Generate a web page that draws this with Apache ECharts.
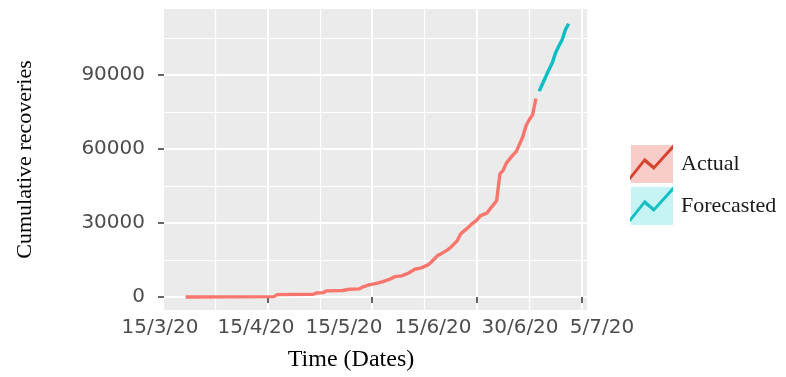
<!DOCTYPE html>
<html>
<head>
<meta charset="utf-8">
<script src="https://cdn.jsdelivr.net/npm/echarts@6/dist/echarts.min.js"></script>
<style>
html,body{margin:0;padding:0;background:#fff;}
#chart{width:786px;height:377px;}
</style>
</head>
<body>
<div id="chart"></div>
<script>
// ---------- data ----------
const actualDates = ['2020-03-15','2020-04-11','2020-04-12','2020-04-23','2020-04-24','2020-04-26','2020-04-27',
  '2020-05-02','2020-05-04','2020-05-07','2020-05-08','2020-05-10','2020-05-12','2020-05-14','2020-05-16',
  '2020-05-18','2020-05-20','2020-05-22','2020-05-24','2020-05-26','2020-05-28','2020-05-29','2020-05-31',
  '2020-06-01','2020-06-03','2020-06-04','2020-06-06','2020-06-07','2020-06-09','2020-06-10','2020-06-12',
  '2020-06-13','2020-06-15','2020-06-16','2020-06-18','2020-06-19','2020-06-20','2020-06-21','2020-06-23',
  '2020-06-24','2020-06-25','2020-06-26','2020-06-27','2020-06-28','2020-06-29','2020-06-30'];
const actualValues = [0,120,930,1100,1620,1750,2440,
  2600,3100,3250,3940,4870,5400,6090,6980,
  8240,8520,9620,11240,11770,12990,14090,16850,
  17460,19080,20180,22850,25580,27810,29110,31260,
  32880,33980,35720,39000,49900,51350,54400,57640,
  58980,62000,65000,69500,72000,74000,80500];
const forecastDates = ['2020-07-01','2020-07-02','2020-07-03','2020-07-04','2020-07-05',
  '2020-07-06','2020-07-07','2020-07-08','2020-07-09','2020-07-10'];
const forecastValues = [83500,86400,89300,92300,95000,99000,101800,104300,108400,110800];

const yTickValues = [0, 30000, 60000, 90000];
const yMinorValues = [15000, 45000, 75000, 105000];
const xMajorDates = ['2020-04-09','2020-05-11','2020-06-12','2020-07-14'];
const xMinorDates = ['2020-03-24','2020-04-25','2020-05-27','2020-06-28'];
const xTickLabels = ['15/3/20','15/4/20','15/5/20','15/6/20','30/6/20','5/7/20'];
const seriesNames = ['Actual','Forecasted'];

// ---------- layout (not data) ----------
const xLabelSlots = [0.1195, 0.3108, 0.4861, 0.6633, 0.8367, 1.0];
const DAY = 86400000;
function toTime(s){const p=s.split('-').map(Number);return Date.UTC(p[0],p[1]-1,p[2]);}
const base = toTime('2020-03-15');
const xMin = base - 6.6*DAY, xMax = base + 122.6*DAY;
const yMin = -5300, yMax = 116800;

const zigzag = 'path://M0,93 L45.6,35 L74.4,60 L134,-7 L134,7 L74.4,74 L45.6,49 L0,107 Z';

const chart = echarts.init(document.getElementById('chart'), null, {renderer:'canvas'});
const tickFont = {fontFamily:'DejaVu Sans', fontSize:20, color:'#4D4D4D'};
const serif = 'Liberation Serif';

chart.setOption({
  animation:false,
  backgroundColor:'#ffffff',
  grid:[
    {left:164, right:199, top:9, bottom:67, show:true, backgroundColor:'#EBEBEB', borderWidth:0},
    {left:100, right:184, top:9, bottom:67, show:false}
  ],
  xAxis:[
    {type:'time', gridIndex:0, min:xMin, max:xMax,
     axisLine:{show:false},
     axisTick:{show:true, length:6, lineStyle:{color:'#333333', width:1.5}, customValues: xMajorDates.map(toTime)},
     axisLabel:{show:false, customValues: xMajorDates.map(toTime)},
     splitLine:{show:true, lineStyle:{color:'#ffffff', width:2}}},
    {type:'time', gridIndex:0, min:xMin, max:xMax,
     axisLine:{show:false},
     axisTick:{show:false, customValues: xMinorDates.map(toTime)},
     axisLabel:{show:false, customValues: xMinorDates.map(toTime)},
     splitLine:{show:true, lineStyle:{color:'#ffffff', width:1.2}}},
    {type:'value', gridIndex:1, min:0, max:1, position:'bottom',
     axisLine:{show:false}, axisTick:{show:false}, splitLine:{show:false},
     axisLabel:Object.assign({show:true, margin:14, customValues:xLabelSlots, showMinLabel:true, showMaxLabel:true, hideOverlap:false,
       formatter:function(v){
         for (let i=0;i<xLabelSlots.length;i++){ if (Math.abs(xLabelSlots[i]-v)<1e-6) return xTickLabels[i]; }
         return '';
       }}, tickFont),
     name:'Time (Dates)', nameLocation:'middle', nameGap:44,
     nameTextStyle:{fontFamily:serif, fontSize:24, color:'#000000'}}
  ],
  yAxis:[
    {type:'value', gridIndex:0, min:yMin, max:yMax,
     axisLine:{show:false},
     axisTick:{show:true, length:6, lineStyle:{color:'#333333', width:1.5}, customValues:yTickValues},
     axisLabel:Object.assign({margin:19, customValues:yTickValues, padding:[7,0,0,0],
       formatter:function(v){return String(Math.round(v));}}, tickFont),
     splitLine:{show:true, lineStyle:{color:'#ffffff', width:2}},
     name:'Cumulative recoveries', nameLocation:'middle', nameRotate:90, nameGap:128,
     nameTextStyle:{fontFamily:serif, fontSize:22, color:'#000000'}},
    {type:'value', gridIndex:0, min:yMin, max:yMax, position:'left',
     axisLine:{show:false},
     axisTick:{show:false, customValues:yMinorValues},
     axisLabel:{show:false, customValues:yMinorValues},
     splitLine:{show:true, lineStyle:{color:'#ffffff', width:1.2}}},
    {type:'value', gridIndex:1, show:false, min:0, max:1}
  ],
  legend:[
    {orient:'vertical', left:626, top:140, itemWidth:42, itemHeight:38, itemGap:4, icon:'rect',
     selectedMode:false, z:4,
     data:[{name:seriesNames[0], itemStyle:{color:'#F8CDC9'}}, {name:seriesNames[1], itemStyle:{color:'#C6F4F5'}}],
     itemStyle:{borderWidth:0}, lineStyle:{width:0, opacity:0},
     textStyle:{fontFamily:serif, fontSize:22, color:'#1A1A1A', padding:[8,0,0,3]}},
    {orient:'vertical', left:625, top:139.5, itemWidth:43, itemHeight:36, itemGap:6, icon:zigzag,
     symbolKeepAspect:false, selectedMode:false, z:5,
     data:[{name:seriesNames[0], itemStyle:{color:'#D6442F'}}, {name:seriesNames[1], itemStyle:{color:'#14BFC4'}}],
     itemStyle:{borderWidth:0}, lineStyle:{width:0, opacity:0},
     formatter:function(){return '';},
     textStyle:{fontSize:10}}
  ],
  series:[
    {name:seriesNames[0], type:'line', xAxisIndex:0, yAxisIndex:0, showSymbol:false, symbol:'none',
     data: actualDates.map((d,i)=>[toTime(d), actualValues[i]]),
     lineStyle:{color:'#F8766D', width:3.4}, itemStyle:{color:'#F8766D'}, z:3},
    {name:seriesNames[1], type:'line', xAxisIndex:0, yAxisIndex:0, showSymbol:false, symbol:'none',
     data: forecastDates.map((d,i)=>[toTime(d), forecastValues[i]]),
     lineStyle:{color:'#00BFC4', width:3.4}, itemStyle:{color:'#00BFC4'}, z:3}
  ]
});
</script>
</body>
</html>
